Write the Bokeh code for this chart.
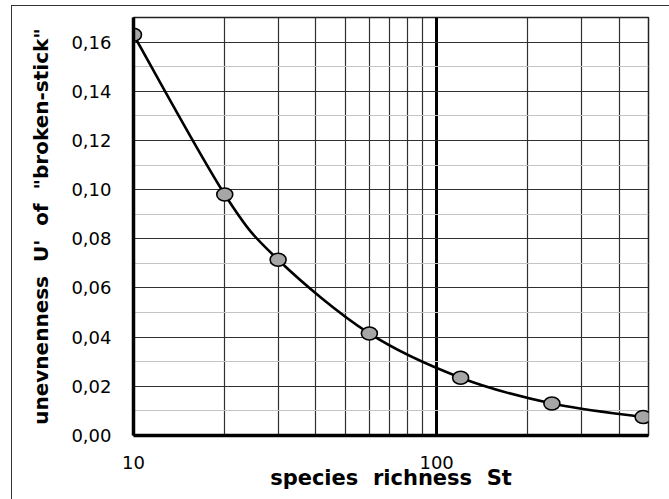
import numpy as np
from bokeh.plotting import figure
from bokeh.models import Range1d, FixedTicker, CustomJSTickFormatter, PrintfTickFormatter
from bokeh.embed import file_html
from bokeh.resources import INLINE

# data
richness = [10, 20, 30, 60, 120, 240, 480]
unevenness = [0.163, 0.098, 0.0715, 0.0415, 0.0235, 0.013, 0.0075]
x_ticks = [10, 100]
x_minor = [20, 30, 40, 50, 60, 70, 80, 90, 200, 300, 400]
y_ticks = [0.0, 0.02, 0.04, 0.06, 0.08, 0.10, 0.12, 0.14, 0.16]
y_minor = [0.01, 0.03, 0.05, 0.07, 0.09, 0.11, 0.13, 0.15]

FONT = "DejaVu Sans"
NB = "\u00a0"

p = figure(width=669, height=499, x_axis_type="log", output_backend="svg",
           toolbar_location=None,
           x_range=Range1d(10, 500), y_range=Range1d(0, 0.17),
           min_border_left=133, min_border_right=21, min_border_top=17, min_border_bottom=64)
p.background_fill_color = "white"
p.border_fill_color = "white"
p.outline_line_color = "#222222"
p.outline_line_width = 1.5

# grids
p.xgrid.ticker = FixedTicker(ticks=x_ticks, minor_ticks=x_minor)
p.xgrid.grid_line_color = "black"
p.xgrid.grid_line_width = 3
p.xgrid.minor_grid_line_color = "#303030"
p.xgrid.minor_grid_line_width = 1.2
p.ygrid.ticker = FixedTicker(ticks=y_ticks, minor_ticks=y_minor)
p.ygrid.grid_line_color = "#303030"
p.ygrid.grid_line_width = 1.2
p.ygrid.minor_grid_line_color = "#c4c4c4"
p.ygrid.minor_grid_line_width = 1.2

# axes
for ax in (p.xaxis[0], p.yaxis[0]):
    ax.axis_line_color = "black"
    ax.axis_line_width = 3.5
    ax.major_tick_in = 0
    ax.major_tick_out = 0
    ax.minor_tick_in = 0
    ax.minor_tick_out = 0
    ax.major_label_text_font = FONT
    ax.major_label_text_font_size = "18px"
    ax.major_label_text_color = "black"
    ax.axis_label_text_font = FONT
    ax.axis_label_text_font_style = "bold"
    ax.axis_label_text_color = "black"

p.xaxis.ticker = FixedTicker(ticks=x_ticks)
p.xaxis.formatter = PrintfTickFormatter(format="%d")
p.xaxis.major_label_standoff = 20
p.xaxis.axis_label = "species" + NB + NB + "richness" + NB + NB + "St"
p.xaxis.axis_label_text_font_size = "21px"
p.xaxis.axis_label_standoff = -6

p.yaxis.ticker = FixedTicker(ticks=y_ticks)
p.yaxis.formatter = CustomJSTickFormatter(code="return tick.toFixed(2).replace('.', ',');")
p.yaxis.major_label_standoff = 22
p.yaxis.axis_label = "unevnenness" + NB + NB + "U'" + NB + NB + "of" + NB + NB + "\"broken-stick\""
p.yaxis.axis_label_text_font_size = "20px"
p.yaxis.axis_label_standoff = 15

# smooth curve (cardinal spline in log-x / linear-y space, drawn as beziers)
lx = np.log10(np.array(richness, dtype=float))
yy = np.array(unevenness, dtype=float)
n = len(lx)
px = np.concatenate([[lx[0]], lx, [lx[-1]]])
py = np.concatenate([[yy[0]], yy, [yy[-1]]])
t = 1.0 / 6.0
x0, y0, x1, y1, cx0, cy0, cx1, cy1 = [], [], [], [], [], [], [], []
for i in range(n - 1):
    a, b, c, d = i, i + 1, i + 2, i + 3
    x0.append(10 ** px[b]); y0.append(py[b])
    x1.append(10 ** px[c]); y1.append(py[c])
    cx0.append(10 ** (px[b] + (px[c] - px[a]) * t)); cy0.append(py[b] + (py[c] - py[a]) * t)
    cx1.append(10 ** (px[c] - (px[d] - px[b]) * t)); cy1.append(py[c] - (py[d] - py[b]) * t)
p.bezier(x0=x0, y0=y0, x1=x1, y1=y1, cx0=cx0, cy0=cy0, cx1=cx1, cy1=cy1,
         line_color="black", line_width=2.6)

p.ellipse(x=richness, y=unevenness, width=16, height=13, width_units="screen",
          height_units="screen", fill_color="#a6a6a6", line_color="black", line_width=1.6)

html = file_html(p, INLINE)
frame_div = ('<div style="position:fixed;left:11px;top:5px;width:800px;height:700px;'
             'border-left:1.5px solid #333;border-top:1.5px solid #333;'
             'pointer-events:none;z-index:10"></div>')
html = html.replace("</body>", frame_div + "</body>", 1)
open("out.html", "w").write(html)
